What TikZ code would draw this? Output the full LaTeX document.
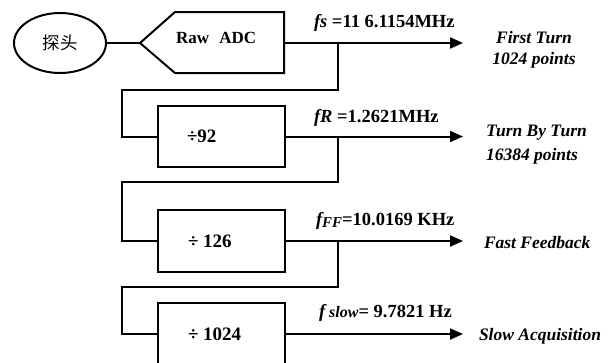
\documentclass[tikz,border=0pt]{standalone}
\usepackage{fontspec}
\setmainfont{Liberation Serif}
\newfontfamily\cjk{Noto Sans CJK SC}
\usetikzlibrary{arrows.meta,shapes.geometric}
\begin{document}
\begin{tikzpicture}[x=1pt,y={(0pt,-1pt)}, line width=2pt,
  lbl/.style={font=\fontsize{17}{20}\selectfont\bfseries, inner sep=0pt},
  flbl/.style={font=\fontsize{18.5}{21}\selectfont\bfseries, inner sep=0pt},
  dlbl/.style={font=\fontsize{19}{22}\selectfont\bfseries, inner sep=0pt},
  outlbl/.style={font=\fontsize{17.5}{20}\selectfont\bfseries\itshape, inner sep=0pt},
  divbox/.style={draw, minimum width=127pt, minimum height=61pt, inner sep=0pt},
  arr/.style={-{Triangle[length=13pt,width=11pt]}}]
\useasboundingbox (0,0) rectangle (612,362);
\clip (0,0) rectangle (612,362);
% probe
\node[draw, ellipse, minimum width=92pt, minimum height=60pt, inner sep=0pt] (probe) at (60,43) {\cjk\fontsize{17.5}{20}\selectfont 探头};
% raw ADC pentagon
\coordinate (adcin) at (140,43);
\coordinate (adcout) at (284,43);
\draw (adcin) -- (175,12) -- (284,12) -- (284,73) -- (175,73) -- cycle;
\node[lbl, anchor=base west] (adctext) at (175,43) {Raw\hspace{0.6em}ADC};
\draw (probe.east) -- (adcin);
% divider boxes
\node[divbox] (b1) at (221.5,136.5) {};
\node[divbox, minimum height=62pt] (b2) at (221.5,241) {};
\node[divbox, minimum height=62pt] (b3) at (221.5,334) {};
\node[dlbl, anchor=base west] (d1) at (186,142) {÷92};
\node[dlbl, anchor=base west] (d2) at (187,247) {÷ 126};
\node[dlbl, anchor=base west] (d3) at (187,340) {÷ 1024};
% coordinates
\coordinate (t1) at (463,43);
\coordinate (t2) at (463,136.5);
\coordinate (t3) at (463,241);
\coordinate (t4) at (463,334);
\coordinate (j1) at (338,43);
\coordinate (j2) at (338,136.5);
\coordinate (j3) at (338,241);
\coordinate (l1) at (122,90);
\coordinate (l2) at (122,182);
\coordinate (l3) at (122,287);
% connectors
\draw[arr] (adcout) -- (t1);
\draw (j1) |- (l1) |- (b1.west);
\draw[arr] (b1.east) -- (t2);
\draw (j2) |- (l2) |- (b2.west);
\draw[arr] (b2.east) -- (t3);
\draw (j3) |- (l3) |- (b3.west);
\draw[arr] (b3.east) -- (t4);
% frequency labels
\node[flbl, anchor=base west] (fs) at (313,27) {\itshape fs\upshape{} =11 6.1154MHz};
\node[flbl, anchor=base west] (fr) at (313,122) {\itshape fR\upshape{} =1.2621MHz};
\node[flbl, anchor=base west] (fff) at (315,225) {\itshape f\raisebox{-2pt}{\fontsize{15}{17}\selectfont FF}\upshape{}=10.0169 KHz};
\node[flbl, anchor=base west] (fsl) at (318,317) {\itshape f\fontsize{16}{18}\selectfont{} slow\upshape\fontsize{18.5}{21}\selectfont{}= 9.7821 Hz};
% output labels
\node[outlbl, anchor=base] (o1a) at (534,43) {First Turn};
\node[outlbl, anchor=base] (o1b) at (534,64) {1024 points};
\node[outlbl, anchor=base west] (o2a) at (485,136) {Turn By Turn};
\node[outlbl, anchor=base west] (o2b) at (485,160) {16384 points};
\node[outlbl, anchor=base west] (o3) at (483,248) {Fast Feedback};
\node[outlbl, anchor=base west] (o4) at (478,340) {Slow Acquisition};
\end{tikzpicture}
\end{document}
